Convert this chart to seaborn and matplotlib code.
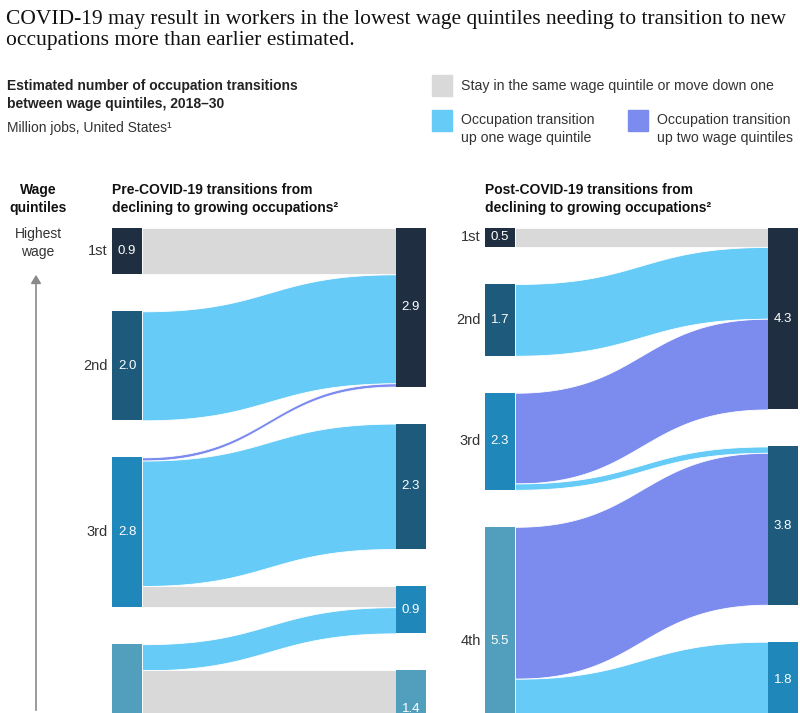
import numpy as np
import pandas as pd
import matplotlib
matplotlib.use("Agg")
import matplotlib.pyplot as plt
import seaborn as sns

quintiles = ["1st", "2nd", "3rd", "4th", "5th"]

# pre-COVID-19 flows, million jobs (source quintile -> target quintile)
pre_src = ["1st", "2nd", "3rd", "3rd", "3rd", "4th", "4th", "4th"]
pre_dst = ["1st", "1st", "1st", "2nd", "3rd", "3rd", "4th", "5th"]
pre_val = [0.85, 2.0, 0.06, 2.3, 0.39, 0.48, 1.4, 1.6]
pre_kind = ["stay", "up1", "up2", "up1", "stay", "up1", "stay", "stay"]
pre_src_labels = ["0.9", "2.0", "2.8", ""]
pre_dst_labels = ["2.9", "2.3", "0.9", "1.4", ""]

# post-COVID-19 flows
post_src = ["1st", "2nd", "3rd", "3rd", "4th", "4th"]
post_dst = ["1st", "1st", "1st", "2nd", "2nd", "3rd"]
post_val = [0.45, 1.7, 2.15, 0.15, 3.6, 1.8]
post_kind = ["stay", "up1", "up2", "up1", "up2", "up1"]
post_src_labels = ["0.5", "1.7", "2.3", "5.5"]
post_dst_labels = ["4.3", "3.8", "1.8"]

flow_colors = {"stay": "#d9d9d9", "up1": "#66cbf6", "up2": "#7b8bee"}
node_colors = {"1st": "#1f2f41", "2nd": "#1e5a7b", "3rd": "#1f87ba",
               "4th": "#529fbd", "5th": "#8cc3d6"}

sns.set_theme(style="white")
plt.rcParams["font.family"] = ["Liberation Sans", "DejaVu Sans"]

W, H = 800, 713
fig = plt.figure(figsize=(W / 100, H / 100), dpi=100)


def px_text(x, y, s, **kw):
    fig.text(x / W, 1 - y / H, s, **kw)


def node_layout(names, totals, gap):
    tops, pos = {}, 0.0
    for q in quintiles:
        if q in names:
            tops[q] = pos
            pos += totals[q] + gap
    return tops


def draw_panel(ax, src, dst, val, kind, src_labels, dst_labels, gap, bw):
    df = pd.DataFrame({"src": src, "dst": dst, "val": val, "kind": kind})
    s_tot = df.groupby("src")["val"].sum()
    d_tot = df.groupby("dst")["val"].sum()
    s_top = node_layout(s_tot.index, s_tot, gap)
    d_top = node_layout(d_tot.index, d_tot, gap)
    y_max = ax.get_ylim()[0]

    s_off = dict(s_top)
    d_off = dict(d_top)
    df["s_rank"] = df["src"].map(quintiles.index)
    df["d_rank"] = df["dst"].map(quintiles.index)
    # stack flows: within a source by target order, within a target by source order
    s_y, d_y = {}, {}
    for i, r in df.sort_values(["s_rank", "d_rank"]).iterrows():
        s_y[i] = s_off[r.src]
        s_off[r.src] += r.val
    for i, r in df.sort_values(["d_rank", "s_rank"]).iterrows():
        d_y[i] = d_off[r.dst]
        d_off[r.dst] += r.val

    x0, x1 = bw, 1 - bw
    t = np.linspace(0, 1, 200)
    bx = x0 + (x1 - x0) * (1.5 * t * (1 - t) ** 2 + 1.5 * t ** 2 * (1 - t) + t ** 3)
    by = 3 * t ** 2 - 2 * t ** 3
    xs = np.linspace(x0, x1, 300)
    shape = np.interp(xs, bx, by)
    for i, r in df.iterrows():
        top = s_y[i] + (d_y[i] - s_y[i]) * shape
        ax.fill_between(xs, top, top + r.val, color=flow_colors[r.kind],
                        edgecolor="white", linewidth=0.6, zorder=1)

    src_names = [q for q in quintiles if q in s_tot.index]
    dst_names = [q for q in quintiles if q in d_tot.index]
    ax.bar([bw / 2] * len(src_names), [s_tot[q] for q in src_names],
           bottom=[s_top[q] for q in src_names], width=bw,
           color=[node_colors[q] for q in src_names], linewidth=0, zorder=2)
    ax.bar([1 - bw / 2] * len(dst_names), [d_tot[q] for q in dst_names],
           bottom=[d_top[q] for q in dst_names], width=bw,
           color=[node_colors[q] for q in dst_names], linewidth=0, zorder=2)

    for q, lab in zip(src_names, src_labels):
        yc = s_top[q] + s_tot[q] / 2
        if yc > y_max:
            continue  # label falls below the cropped view
        ax.text(bw / 2, yc, lab, color="white", fontsize=9.5,
                ha="center", va="center", zorder=3)
        ax.text(-0.013, yc, q, color="#333333", fontsize=10.5,
                ha="right", va="center", clip_on=False)
    for q, lab in zip(dst_names, dst_labels):
        yc = d_top[q] + d_tot[q] / 2
        if yc > y_max:
            continue
        ax.text(1 - bw / 2, yc, lab, color="white", fontsize=9.5,
                ha="center", va="center", zorder=3)


top_px = 228
ax1 = fig.add_axes([112 / W, 0, 314 / W, (H - top_px) / H])
ax1.set_xlim(0, 1)
ax1.set_ylim((H - top_px) / 54.5, 0)
ax1.axis("off")
draw_panel(ax1, pre_src, pre_dst, pre_val, pre_kind, pre_src_labels,
           pre_dst_labels, gap=37 / 54.5, bw=30 / 314)

ax2 = fig.add_axes([485 / W, 0, 313 / W, (H - top_px) / H])
ax2.set_xlim(0, 1)
ax2.set_ylim((H - top_px) / 42.2, 0)
ax2.axis("off")
draw_panel(ax2, post_src, post_dst, post_val, post_kind, post_src_labels,
           post_dst_labels, gap=37 / 42.2, bw=30 / 313)

# titles and notes
px_text(6, 10, "COVID-19 may result in workers in the lowest wage quintiles needing to transition to new\n"
        "occupations more than earlier estimated.",
        fontsize=15.5, family=["Liberation Serif", "DejaVu Serif"], color="#111111",
        va="top", ha="left", linespacing=1.12)
px_text(7, 79, "Estimated number of occupation transitions\nbetween wage quintiles, 2018\u201330",
        fontsize=10, fontweight="bold", color="#222222", va="top", linespacing=1.35)
px_text(7, 128, "Million jobs, United States\u00b9", fontsize=10, color="#333333", va="center")

# legend
legend_items = [("stay", 432, 75, 86, "Stay in the same wage quintile or move down one"),
                ("up1", 432, 110, 129, "Occupation transition\nup one wage quintile"),
                ("up2", 628, 110, 129, "Occupation transition\nup two wage quintiles")]
for k, lx, sq_top, ty, lab in legend_items:
    fig.patches.append(plt.Rectangle((lx / W, 1 - (sq_top + 21) / H), 20 / W, 21 / H,
                                     transform=fig.transFigure, color=flow_colors[k]))
    px_text(lx + 29, ty, lab, fontsize=10.2, color="#333333",
            va="center", linespacing=1.4)

px_text(112, 199, "Pre-COVID-19 transitions from\ndeclining to growing occupations\u00b2",
        fontsize=10, fontweight="bold", color="#111111", va="center", linespacing=1.35)
px_text(485, 199, "Post-COVID-19 transitions from\ndeclining to growing occupations\u00b2",
        fontsize=10, fontweight="bold", color="#111111", va="center", linespacing=1.35)
px_text(38, 199, "Wage\nquintiles", fontsize=10, fontweight="bold", color="#111111",
        va="center", ha="center", linespacing=1.35)
px_text(38, 243, "Highest\nwage", fontsize=10, color="#333333",
        va="center", ha="center", linespacing=1.35)
fig.add_artist(matplotlib.patches.FancyArrowPatch(
    (36 / W, 0), (36 / W, 1 - 272 / H), transform=fig.transFigure,
    arrowstyle="-|>,head_length=5,head_width=3", color="#8a8a8a", linewidth=1.2))

fig.savefig("out.png", dpi=100)
